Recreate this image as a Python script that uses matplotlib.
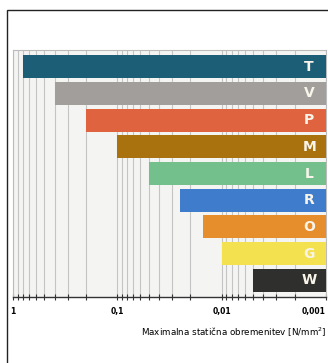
import matplotlib.pyplot as plt
from matplotlib.patches import Rectangle
from matplotlib.ticker import LogLocator, NullFormatter, FixedLocator
import numpy as np

# bar labels, top to bottom, and the load where each bar starts (N/mm2)
labels = ['T', 'V', 'P', 'M', 'L', 'R', 'O', 'G', 'W']
start_load = [0.8, 0.4, 0.2, 0.1, 0.05, 0.025, 0.015, 0.01, 0.005]
end_load = 0.001
colors = ['#1d5e77', '#a19e9c', '#e0633f', '#a9720f', '#74c08c',
          '#3f7ccb', '#e68e2c', '#f3e150', '#2f2f2d']
tick_vals = [1, 0.1, 0.01, 0.001]
tick_text = ['1', '0,1', '0,01', '0,001']
xlabel = 'Maximalna statična obremenitev [N/mm$^2$]'

fig = plt.figure(figsize=(3.28, 3.63), dpi=100)
ax = fig.add_axes([13 / 328, 1 - 297 / 363, 313 / 328, 247 / 363])
ax.set_facecolor('#f4f4f3')

ax.set_xscale('log')
ax.set_xlim(1, end_load)
ax.set_ylim(8.62, -0.62)

y = np.arange(len(labels))
widths = [s - end_load for s in start_load]
ax.barh(y, widths, left=end_load, height=0.86, color=colors, zorder=3)
for yi, lab in zip(y, labels):
    ax.text(0.00145, yi, lab, color='#f8f4ea', fontsize=10, fontweight='bold',
            ha='center', va='center', zorder=4)

# grid lines at every decade subdivision
ax.xaxis.set_major_locator(FixedLocator(tick_vals))
ax.xaxis.set_minor_locator(LogLocator(base=10, subs=np.arange(2, 10)))
ax.xaxis.set_minor_formatter(NullFormatter())
ax.set_xticklabels(tick_text, fontsize=5.5, fontweight='bold')
ax.get_xticklabels()[-1].set_ha('right')
ax.grid(True, which='both', axis='x', color='#c4c4c4', lw=0.8, zorder=1)
ax.set_yticks([])
ax.tick_params(axis='x', which='both', direction='inout', length=4,
               width=0.8, color='#333333', pad=5)
ax.tick_params(axis='x', which='major', length=5)

for side in ['top', 'left', 'right']:
    ax.spines[side].set_color('#bbbbbb')
    ax.spines[side].set_linewidth(0.8)
ax.spines['bottom'].set_color('#333333')
ax.spines['bottom'].set_linewidth(1.0)

fig.text(327 / 328, 1 - 332 / 363, xlabel, fontsize=6.3, ha='right',
         va='center')

# frame around the whole graphic, cut off at right and bottom
fig.patches.append(Rectangle((7 / 328, -0.1), 1.2, 1 - 10 / 363 + 0.1,
                             transform=fig.transFigure, fill=False,
                             edgecolor='#222222', lw=1.0))

fig.savefig('out.png', dpi=100)
